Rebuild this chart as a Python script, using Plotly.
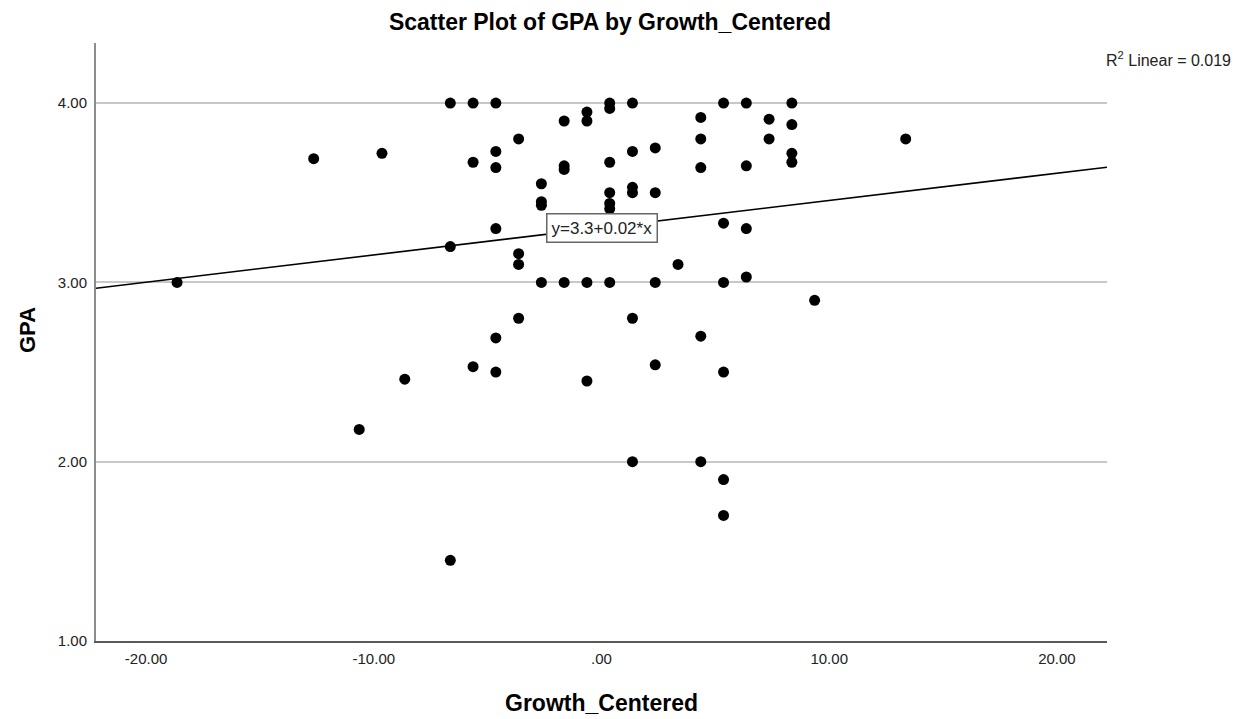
import plotly.graph_objects as go

# Growth_Centered (x) and GPA (y) for each student
growth_centered = [
    -18.64, -12.64, -10.64, -9.64, -8.64,
    -6.64, -6.64, -6.64,
    -5.64, -5.64, -5.64,
    -4.64, -4.64, -4.64, -4.64, -4.64, -4.64,
    -3.64, -3.64, -3.64, -3.64,
    -2.64, -2.64, -2.64, -2.64,
    -1.64, -1.64, -1.64, -1.64,
    -0.64, -0.64, -0.64, -0.64,
    0.36, 0.36, 0.36, 0.36, 0.36, 0.36, 0.36,
    1.36, 1.36, 1.36, 1.36, 1.36, 1.36,
    2.36, 2.36, 2.36, 2.36,
    3.36,
    4.36, 4.36, 4.36, 4.36, 4.36,
    5.36, 5.36, 5.36, 5.36, 5.36, 5.36,
    6.36, 6.36, 6.36, 6.36,
    7.36, 7.36,
    8.36, 8.36, 8.36, 8.36,
    9.36, 13.36,
]
gpa = [
    3.00, 3.69, 2.18, 3.72, 2.46,
    4.00, 3.20, 1.45,
    4.00, 3.67, 2.53,
    4.00, 3.73, 3.64, 3.30, 2.69, 2.50,
    3.80, 3.16, 3.10, 2.80,
    3.55, 3.45, 3.43, 3.00,
    3.90, 3.65, 3.63, 3.00,
    3.95, 3.90, 3.00, 2.45,
    4.00, 3.97, 3.67, 3.50, 3.44, 3.41, 3.00,
    4.00, 3.73, 3.53, 3.50, 2.80, 2.00,
    3.75, 3.50, 3.00, 2.54,
    3.10,
    3.92, 3.80, 3.64, 2.70, 2.00,
    4.00, 3.33, 3.00, 2.50, 1.90, 1.70,
    4.00, 3.65, 3.30, 3.03,
    3.91, 3.80,
    4.00, 3.88, 3.72, 3.67,
    2.90, 3.80,
]

# Linear fit line (coefficients from the regression output)
fit_intercept = 3.305
fit_slope = 0.0152
r_squared = 0.019

x_ticks = [-20, -10, 0, 10, 20]
x_tick_labels = ["-20.00", "-10.00", ".00", "10.00", "20.00"]
y_ticks = [1, 2, 3, 4]
y_tick_labels = ["1.00", "2.00", "3.00", "4.00"]

x_range = [-22.2, 22.2]
y_range = [1.0, 4.335]

fit_x = list(x_range)
fit_y = [fit_intercept + fit_slope * v for v in fit_x]

fig = go.Figure()
fig.add_trace(go.Scatter(
    x=fit_x, y=fit_y, mode="lines",
    line=dict(color="black", width=1.6),
    hoverinfo="skip", showlegend=False,
))
fig.add_trace(go.Scatter(
    x=growth_centered, y=gpa, mode="markers",
    marker=dict(color="black", size=11, line=dict(width=0)),
    showlegend=False,
))

font_family = "Liberation Sans, Arial, sans-serif"

fig.update_layout(
    width=1241, height=719,
    margin=dict(l=96, r=134, t=43, b=78),
    paper_bgcolor="white", plot_bgcolor="white",
    font=dict(family=font_family, color="#222"),
    title=dict(
        text="<b>Scatter Plot of GPA by Growth_Centered</b>",
        x=610 / 1241, xanchor="center",
        y=1 - 22 / 719, yanchor="middle",
        font=dict(size=23, color="black", family=font_family),
    ),
    xaxis=dict(
        range=x_range, tickvals=x_ticks, ticktext=x_tick_labels,
        showgrid=False, zeroline=False,
        showline=True, linecolor="#5a5a5a", linewidth=2,
        ticks="", ticklabelstandoff=3,
        tickfont=dict(size=15, color="#222"),
    ),
    yaxis=dict(
        range=y_range, tickvals=y_ticks, ticktext=y_tick_labels,
        showgrid=True, gridcolor="#c8c8c8", gridwidth=1.5,
        zeroline=False,
        showline=True, linecolor="#8c8c8c", linewidth=2,
        ticks="", ticklabelstandoff=4,
        tickfont=dict(size=15, color="#222"),
    ),
)

# Axis titles
fig.add_annotation(
    text="<b>Growth_Centered</b>", xref="paper", yref="paper",
    x=(601 - 96) / 1011, y=-(703 - 641) / 598,
    xanchor="center", yanchor="middle", showarrow=False,
    font=dict(size=23, color="black", family=font_family),
)
fig.add_annotation(
    text="<b>GPA</b>", xref="paper", yref="paper",
    x=-(96 - 27) / 1011, y=(641 - 330) / 598,
    xanchor="center", yanchor="middle", showarrow=False, textangle=-90,
    font=dict(size=22, color="black", family=font_family),
)

# Fit equation label on the line
fig.add_annotation(
    text=f"y={fit_intercept:.1f}+{fit_slope:.2f}*x",
    x=0, y=fit_intercept, xref="x", yref="y",
    xanchor="center", yanchor="middle", showarrow=False,
    bgcolor="white", bordercolor="#666", borderwidth=1.5, borderpad=4,
    font=dict(size=17, color="#222", family=font_family),
)

# R-squared
fig.add_annotation(
    text=f"R<sup>2</sup> Linear = {r_squared:.3f}",
    xref="paper", yref="paper",
    x=(1233 - 96) / 1011, y=(641 - 59) / 598,
    xanchor="right", yanchor="middle", showarrow=False,
    font=dict(size=16, color="#222", family=font_family),
)

fig.write_html("out.html")
